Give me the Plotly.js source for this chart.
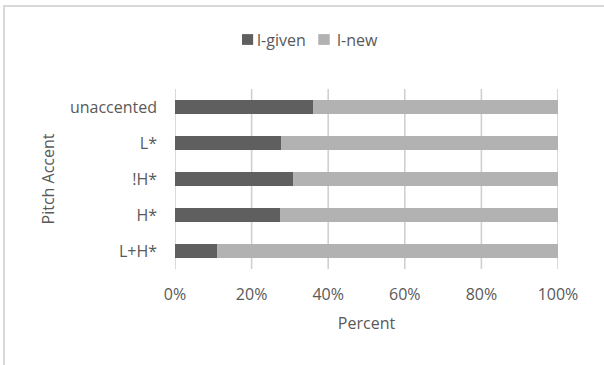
<!DOCTYPE html>
<html>
<head>
<meta charset="utf-8">
<script src="https://cdn.plot.ly/plotly-3.0.1.min.js"></script>
<style>
  html, body { margin: 0; padding: 0; background: #fff; }
  #wrap { position: relative; width: 604px; height: 365px; overflow: hidden; }
  #chart { width: 604px; height: 365px; }
  #frame {
    position: absolute; left: 3px; top: 5px; width: 610px; height: 370px;
    border-left: 2px solid #d9d9d9; border-top: 2px solid #d9d9d9;
    pointer-events: none;
  }
</style>
</head>
<body>
<div id="wrap">
  <div id="chart"></div>
  <div id="frame"></div>
</div>
<script>
// Pitch accent categories, listed top to bottom
const accents = ['unaccented', 'L*', '!H*', 'H*', 'L+H*'];

// Share of each information status per pitch accent (percent)
const givenPct = [36.1, 27.7, 30.7, 27.5, 10.9];
const newPct   = [63.9, 72.3, 69.3, 72.5, 89.1];

const seriesNames = ['l-given', 'l-new'];
const seriesColors = ['#5f5f5f', '#b2b2b2'];

const percentTicks = [0, 20, 40, 60, 80, 100];
const percentLabels = ['0%', '20%', '40%', '60%', '80%', '100%'];

const textColor = '#595959';
const gridColor = '#d0d0d0';
const fontFamily = '"Open Sans", "Noto Sans", sans-serif';

// Gridlines: one vertical segment per percent tick on a hidden 0..1 base axis,
// so the bar subplot (overlaid on top) covers them.
const gridTrace = {
  type: 'scatter', mode: 'lines',
  x: percentTicks.flatMap(v => [v, v, null]),
  y: percentTicks.flatMap(() => [0, 1, null]),
  xaxis: 'x', yaxis: 'y',
  line: { color: gridColor, width: 1.6 },
  cliponaxis: false,
  hoverinfo: 'skip', showlegend: false
};

const barTraces = [givenPct, newPct].map((vals, i) => ({
  type: 'bar',
  orientation: 'h',
  name: seriesNames[i],
  y: accents,
  x: vals,
  xaxis: 'x', yaxis: 'y2',
  marker: { color: seriesColors[i], line: { width: 0 } },
  hoverinfo: 'name+x'
}));

// Legend row above the plot (paper coordinates)
const legendItems = [
  { sq: [0.175, 0.204], tx: 0.212 },
  { sq: [0.374, 0.404], tx: 0.421 }
];
const legendShapes = legendItems.map((it, i) => ({
  type: 'rect', xref: 'paper', yref: 'paper',
  x0: it.sq[0], x1: it.sq[1], y0: 1.245, y1: 1.305,
  fillcolor: seriesColors[i], line: { width: 0 }
}));
const annotations = legendItems.map((it, i) => ({
  xref: 'paper', yref: 'paper', x: it.tx, y: 1.275,
  xanchor: 'left', yanchor: 'middle', showarrow: false,
  text: seriesNames[i], borderpad: 0,
  font: { family: fontFamily, size: 16, color: textColor }
}));

const layout = {
  width: 604, height: 365,
  margin: { l: 175, r: 46, t: 89, b: 96, pad: 0 },
  paper_bgcolor: '#ffffff', plot_bgcolor: '#ffffff',
  barmode: 'stack',
  bargap: 0.6,
  showlegend: false,
  font: { family: fontFamily, size: 16, color: textColor },
  xaxis: {
    range: [0, 100],
    tickvals: percentTicks,
    ticktext: percentLabels,
    showgrid: false,
    zeroline: false, showline: false, ticks: '',
    ticklabelstandoff: 14,
    tickfont: { family: fontFamily, size: 16, color: textColor },
    title: { text: 'Percent', standoff: 13, font: { family: fontFamily, size: 16, color: textColor } },
    fixedrange: true
  },
  yaxis: {
    range: [0, 1],
    visible: false, showgrid: false, zeroline: false,
    fixedrange: true
  },
  yaxis2: {
    overlaying: 'y', side: 'left',
    type: 'category',
    autorange: 'reversed',
    showgrid: false, zeroline: false, showline: false, ticks: '',
    ticklabelstandoff: 17,
    tickfont: { family: fontFamily, size: 16, color: textColor },
    title: { text: 'Pitch Accent', standoff: 11, font: { family: fontFamily, size: 16, color: textColor } },
    fixedrange: true
  },
  shapes: legendShapes,
  annotations: annotations
};

Plotly.newPlot('chart', [gridTrace].concat(barTraces), layout, { displayModeBar: false, staticPlot: true });
</script>
</body>
</html>
